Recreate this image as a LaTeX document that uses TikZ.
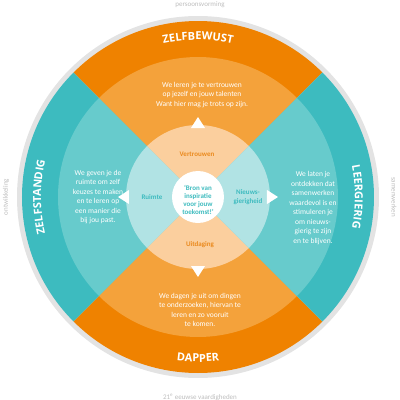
\documentclass[tikz,border=0pt]{standalone}
\usepackage{fontspec}
\setmainfont{Carlito}
\newfontfamily\headfont{Open Sans}
\usetikzlibrary{decorations.text}
\definecolor{ordark}{HTML}{EF8200}
\definecolor{ormid}{HTML}{F4A23B}
\definecolor{orpale}{HTML}{FBCF9E}
\definecolor{tedark}{HTML}{3DBBBF}
\definecolor{temid}{HTML}{67CBCC}
\definecolor{tepale}{HTML}{B1E3E4}
\definecolor{greyring}{HTML}{E3E3E3}
\definecolor{greytext}{HTML}{BDBDBD}
\definecolor{orlabel}{HTML}{EA8A1E}
\begin{document}
\begin{tikzpicture}[x=1pt,y=1pt,
  body/.style={text=white, font=\fontsize{7.5}{9.5}\selectfont, align=center, inner sep=0pt},
  olab/.style={text=orlabel, font=\bfseries\fontsize{7}{8.5}\selectfont, align=center, inner sep=0pt},
  tlab/.style={text=tedark, font=\bfseries\fontsize{7}{8.5}\selectfont, align=center, inner sep=0pt},
  clab/.style={text=tedark, font=\bfseries\fontsize{7}{8}\selectfont, align=center, inner sep=0pt},
  glab/.style={text=greytext, font=\fontsize{7}{8}\selectfont, inner sep=0pt},
  arclabel/.style={decorate, decoration={text along path, text align=center, text color=white,
     text={|\headfont\bfseries\fontsize{11}{13}\selectfont|#1}}}]
\useasboundingbox (-198,-203) rectangle (202,197);
\fill[greyring] (0,0) circle[radius=181];
\foreach \r/\o/\t in {176/ordark/tedark, 140/ormid/temid, 72/orpale/tepale}{
  \fill[\o] (0,0) -- (45:\r) arc[start angle=45,end angle=135,radius=\r] -- cycle;
  \fill[\o] (0,0) -- (225:\r) arc[start angle=225,end angle=315,radius=\r] -- cycle;
  \fill[\t] (0,0) -- (135:\r) arc[start angle=135,end angle=225,radius=\r] -- cycle;
  \fill[\t] (0,0) -- (-45:\r) arc[start angle=-45,end angle=45,radius=\r] -- cycle;
}
\fill[white] (0,0) circle[radius=26];
% triangles
\fill[white] (0,80) -- (-7,69) -- (7,69) -- cycle;
\fill[white] (0,-80) -- (-7,-69) -- (7,-69) -- cycle;
\fill[white] (-80,0) -- (-69,7) -- (-69,-7) -- cycle;
\fill[white] (80,0) -- (69,7) -- (69,-7) -- cycle;
% curved labels
\path[arclabel=ZELFBEWUST] (120:157) arc[start angle=120,end angle=60,radius=157];
\path[arclabel=DAPPER] (240:165) arc[start angle=240,end angle=300,radius=165];
\path[arclabel=ZELFSTANDIG] (210:157) arc[start angle=210,end angle=150,radius=157];
\path[arclabel=LEERGIERIG] (30:157) arc[start angle=30,end angle=-30,radius=157];
% body texts
\node[body] (tzb) at (4,102) {We leren je te vertrouwen\\op jezelf en jouw talenten\\Want hier mag je trots op zijn.};
\node[body] (tzs) at (-100,0) {We geven je de\\ruimte om zelf\\keuzes te maken\\en te leren op\\een manier die\\bij jou past.};
\node[body] (tlg) at (115,-11) {We laten je\\ontdekken dat\\samenwerken\\waardevol is en\\stimuleren je\\om nieuws-\\gierig te zijn\\en te blijven.};
\node[body] (tdp) at (2,-113) {We dagen je uit om dingen\\te onderzoeken, hiervan te\\leren en zo vooruit\\te komen.};
% inner labels
\node[olab] (vert) at (-1,43) {Vertrouwen};
\node[olab] (uitd) at (2,-48) {Uitdaging};
\node[tlab] (ruim) at (-46,0) {Ruimte};
\node[tlab] (nieu) at (50,0) {Nieuws-\\gierigheid};
\node[clab] (core) at (0,-3) {‘Bron van\\inspiratie\\voor jouw\\toekomst!’};
% outer grey labels
\node[glab] (pv) at (2,192) {persoonsvorming};
\node[glab] (vh) at (2,-200) {21\textsuperscript{e} eeuwse vaardigheden};
\node[glab, rotate=90] (ow) at (-192,0) {ontwikkeling};
\node[glab, rotate=-90] (sw) at (196,0) {samenwerken};
\end{tikzpicture}
\end{document}
